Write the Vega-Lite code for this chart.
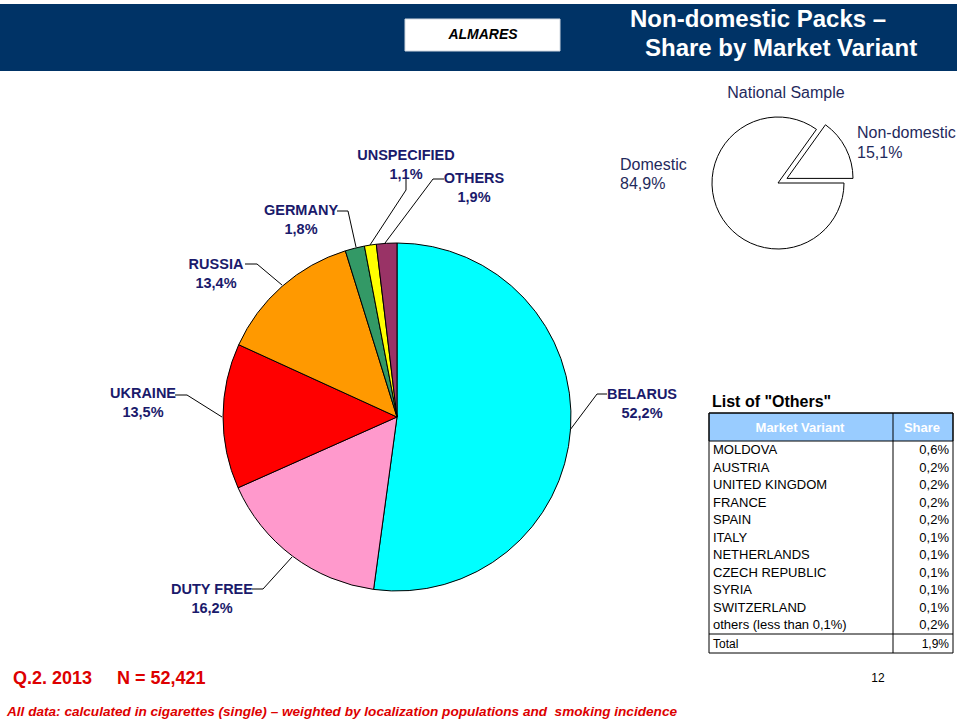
{
  "$schema": "https://vega.github.io/schema/vega-lite/v6.json",
  "width": 959,
  "height": 721,
  "autosize": {"type": "fit", "contains": "padding"},
  "padding": 0,
  "background": "white",
  "config": {"view": {"stroke": null}},
  "data": {"values": [{}]},
  "resolve": {"scale": {"theta": "independent", "color": "independent"}},
  "layer": [
    {"mark": {"type": "rect", "fill": "#003366"},
     "encoding": {"x": {"value": 0}, "x2": {"value": 957}, "y": {"value": 4}, "y2": {"value": 71}}},
    {"mark": {"type": "rect", "fill": "white", "stroke": "#d0d8e0", "strokeWidth": 1},
     "encoding": {"x": {"value": 405}, "x2": {"value": 560}, "y": {"value": 19}, "y2": {"value": 51}}},
    {"mark": {"type": "text", "font": "Liberation Sans", "fontSize": 14, "fontWeight": "bold", "fontStyle": "italic", "fill": "black", "align": "center", "baseline": "middle"},
     "encoding": {"x": {"value": 483}, "y": {"value": 35}, "text": {"value": "ALMARES"}}},
    {"mark": {"type": "text", "font": "Liberation Sans", "fontSize": 24, "fontWeight": "bold", "fill": "white", "align": "left", "baseline": "middle"},
     "encoding": {"x": {"value": 630}, "y": {"value": 20}, "text": {"value": "Non-domestic Packs –"}}},
    {"mark": {"type": "text", "font": "Liberation Sans", "fontSize": 24, "fontWeight": "bold", "fill": "white", "align": "left", "baseline": "middle"},
     "encoding": {"x": {"value": 645}, "y": {"value": 49}, "text": {"value": "Share by Market Variant"}}},

    {"data": {"values": [
      {"variant": "BELARUS", "share": 52.2, "o": 1},
      {"variant": "DUTY FREE", "share": 16.2, "o": 2},
      {"variant": "UKRAINE", "share": 13.5, "o": 3},
      {"variant": "RUSSIA", "share": 13.4, "o": 4},
      {"variant": "GERMANY", "share": 1.8, "o": 5},
      {"variant": "UNSPECIFIED", "share": 1.1, "o": 6},
      {"variant": "OTHERS", "share": 1.9, "o": 7}
    ]},
     "mark": {"type": "arc", "outerRadius": 174, "stroke": "black", "strokeWidth": 1},
     "encoding": {
       "x": {"value": 397}, "y": {"value": 417},
       "theta": {"field": "share", "type": "quantitative", "stack": true},
       "order": {"field": "o", "type": "quantitative"},
       "color": {"field": "variant", "type": "nominal", "legend": null,
         "scale": {"domain": ["BELARUS", "DUTY FREE", "UKRAINE", "RUSSIA", "GERMANY", "UNSPECIFIED", "OTHERS"],
                   "range": ["#00FFFF", "#FF99CC", "#FF0000", "#FF9900", "#339966", "#FFFF00", "#993366"]}}
     }},

    {"mark": {"type": "rule", "stroke": "black", "strokeWidth": 1}, "encoding": {"x": {"value": 337}, "y": {"value": 211}, "x2": {"value": 348}, "y2": {"value": 211}}},
    {"mark": {"type": "rule", "stroke": "black", "strokeWidth": 1}, "encoding": {"x": {"value": 348}, "y": {"value": 211}, "x2": {"value": 356}, "y2": {"value": 247}}},
    {"mark": {"type": "rule", "stroke": "black", "strokeWidth": 1}, "encoding": {"x": {"value": 406}, "y": {"value": 177}, "x2": {"value": 406}, "y2": {"value": 190}}},
    {"mark": {"type": "rule", "stroke": "black", "strokeWidth": 1}, "encoding": {"x": {"value": 406}, "y": {"value": 190}, "x2": {"value": 370}, "y2": {"value": 245}}},
    {"mark": {"type": "rule", "stroke": "black", "strokeWidth": 1}, "encoding": {"x": {"value": 444}, "y": {"value": 179}, "x2": {"value": 433}, "y2": {"value": 179}}},
    {"mark": {"type": "rule", "stroke": "black", "strokeWidth": 1}, "encoding": {"x": {"value": 433}, "y": {"value": 179}, "x2": {"value": 385}, "y2": {"value": 243}}},
    {"mark": {"type": "rule", "stroke": "black", "strokeWidth": 1}, "encoding": {"x": {"value": 245}, "y": {"value": 264}, "x2": {"value": 257}, "y2": {"value": 264}}},
    {"mark": {"type": "rule", "stroke": "black", "strokeWidth": 1}, "encoding": {"x": {"value": 257}, "y": {"value": 264}, "x2": {"value": 282}, "y2": {"value": 285}}},
    {"mark": {"type": "rule", "stroke": "black", "strokeWidth": 1}, "encoding": {"x": {"value": 175}, "y": {"value": 395}, "x2": {"value": 187}, "y2": {"value": 395}}},
    {"mark": {"type": "rule", "stroke": "black", "strokeWidth": 1}, "encoding": {"x": {"value": 187}, "y": {"value": 395}, "x2": {"value": 222}, "y2": {"value": 417}}},
    {"mark": {"type": "rule", "stroke": "black", "strokeWidth": 1}, "encoding": {"x": {"value": 252}, "y": {"value": 589}, "x2": {"value": 263}, "y2": {"value": 589}}},
    {"mark": {"type": "rule", "stroke": "black", "strokeWidth": 1}, "encoding": {"x": {"value": 263}, "y": {"value": 589}, "x2": {"value": 292}, "y2": {"value": 557}}},
    {"mark": {"type": "rule", "stroke": "black", "strokeWidth": 1}, "encoding": {"x": {"value": 607}, "y": {"value": 394}, "x2": {"value": 597}, "y2": {"value": 394}}},
    {"mark": {"type": "rule", "stroke": "black", "strokeWidth": 1}, "encoding": {"x": {"value": 597}, "y": {"value": 394}, "x2": {"value": 570}, "y2": {"value": 430}}},

    {"mark": {"type": "text", "font": "Liberation Sans", "fontSize": 14.5, "fontWeight": "bold", "fill": "#1a1a6b", "align": "center", "baseline": "middle", "lineHeight": 19},
     "encoding": {"x": {"value": 406}, "y": {"value": 155.5}, "text": {"value": ["UNSPECIFIED", "1,1%"]}}},
    {"mark": {"type": "text", "font": "Liberation Sans", "fontSize": 14.5, "fontWeight": "bold", "fill": "#1a1a6b", "align": "center", "baseline": "middle", "lineHeight": 19},
     "encoding": {"x": {"value": 474}, "y": {"value": 178.5}, "text": {"value": ["OTHERS", "1,9%"]}}},
    {"mark": {"type": "text", "font": "Liberation Sans", "fontSize": 14.5, "fontWeight": "bold", "fill": "#1a1a6b", "align": "center", "baseline": "middle", "lineHeight": 19},
     "encoding": {"x": {"value": 301}, "y": {"value": 210.5}, "text": {"value": ["GERMANY", "1,8%"]}}},
    {"mark": {"type": "text", "font": "Liberation Sans", "fontSize": 14.5, "fontWeight": "bold", "fill": "#1a1a6b", "align": "center", "baseline": "middle", "lineHeight": 19},
     "encoding": {"x": {"value": 216}, "y": {"value": 264.5}, "text": {"value": ["RUSSIA", "13,4%"]}}},
    {"mark": {"type": "text", "font": "Liberation Sans", "fontSize": 14.5, "fontWeight": "bold", "fill": "#1a1a6b", "align": "center", "baseline": "middle", "lineHeight": 19},
     "encoding": {"x": {"value": 143}, "y": {"value": 394}, "text": {"value": ["UKRAINE", "13,5%"]}}},
    {"mark": {"type": "text", "font": "Liberation Sans", "fontSize": 14.5, "fontWeight": "bold", "fill": "#1a1a6b", "align": "center", "baseline": "middle", "lineHeight": 19},
     "encoding": {"x": {"value": 212}, "y": {"value": 589.5}, "text": {"value": ["DUTY FREE", "16,2%"]}}},
    {"mark": {"type": "text", "font": "Liberation Sans", "fontSize": 14.5, "fontWeight": "bold", "fill": "#1a1a6b", "align": "center", "baseline": "middle", "lineHeight": 19},
     "encoding": {"x": {"value": 642}, "y": {"value": 394.5}, "text": {"value": ["BELARUS", "52,2%"]}}},

    {"mark": {"type": "text", "font": "Liberation Sans", "fontSize": 16, "fill": "#1f2a5c", "align": "center", "baseline": "middle"},
     "encoding": {"x": {"value": 786}, "y": {"value": 93}, "text": {"value": "National Sample"}}},
    {"mark": {"type": "text", "font": "Liberation Sans", "fontSize": 16, "fill": "#1f2a5c", "align": "left", "baseline": "middle", "lineHeight": 19},
     "encoding": {"x": {"value": 620}, "y": {"value": 164.5}, "text": {"value": ["Domestic", "84,9%"]}}},
    {"mark": {"type": "text", "font": "Liberation Sans", "fontSize": 16, "fill": "#1f2a5c", "align": "left", "baseline": "middle", "lineHeight": 20},
     "encoding": {"x": {"value": 857}, "y": {"value": 133}, "text": {"value": ["Non-domestic", "15,1%"]}}},

    {"data": {"values": [
      {"segment": "Domestic", "share": 84.9, "o": 1},
      {"segment": "Non-domestic", "share": 15.1, "o": 2}
    ]},
     "transform": [
       {"stack": "share", "groupby": [], "as": ["s0", "s1"], "sort": [{"field": "o", "order": "ascending"}]},
       {"filter": "datum.segment === 'Domestic'"}
     ],
     "mark": {"type": "arc", "outerRadius": 66, "fill": "white", "stroke": "black", "strokeWidth": 1},
     "encoding": {
       "x": {"value": 778}, "y": {"value": 183},
       "theta": {"field": "s0", "type": "quantitative", "scale": {"domain": [0, 100], "range": [1.5708, 7.854]}},
       "theta2": {"field": "s1"}
     }},
    {"data": {"values": [
      {"segment": "Domestic", "share": 84.9, "o": 1},
      {"segment": "Non-domestic", "share": 15.1, "o": 2}
    ]},
     "transform": [
       {"stack": "share", "groupby": [], "as": ["s0", "s1"], "sort": [{"field": "o", "order": "ascending"}]},
       {"filter": "datum.segment === 'Non-domestic'"}
     ],
     "mark": {"type": "arc", "outerRadius": 66, "fill": "white", "stroke": "black", "strokeWidth": 1},
     "encoding": {
       "x": {"value": 787}, "y": {"value": 178.4},
       "theta": {"field": "s0", "type": "quantitative", "scale": {"domain": [0, 100], "range": [1.5708, 7.854]}},
       "theta2": {"field": "s1"}
     }},

    {"mark": {"type": "text", "font": "Liberation Sans", "fontSize": 16, "fontWeight": "bold", "fill": "black", "align": "left", "baseline": "middle"},
     "encoding": {"x": {"value": 712}, "y": {"value": 402}, "text": {"value": "List of \"Others\""}}},
    {"mark": {"type": "rect", "fill": "#99CCFF", "stroke": "black", "strokeWidth": 1},
     "encoding": {"x": {"value": 709}, "x2": {"value": 953}, "y": {"value": 413}, "y2": {"value": 441}}},
    {"mark": {"type": "rect", "fill": null, "fillOpacity": 0, "stroke": "black", "strokeWidth": 1},
     "encoding": {"x": {"value": 709}, "x2": {"value": 953}, "y": {"value": 413}, "y2": {"value": 653}}},
    {"mark": {"type": "rule", "stroke": "black", "strokeWidth": 1}, "encoding": {"x": {"value": 893}, "y": {"value": 413}, "x2": {"value": 893}, "y2": {"value": 653}}},
    {"mark": {"type": "rule", "stroke": "black", "strokeWidth": 1}, "encoding": {"x": {"value": 709}, "y": {"value": 634}, "x2": {"value": 953}, "y2": {"value": 634}}},
    {"mark": {"type": "text", "font": "Liberation Sans", "fontSize": 13, "fontWeight": "bold", "fill": "white", "align": "center", "baseline": "middle"},
     "encoding": {"x": {"value": 800}, "y": {"value": 428}, "text": {"value": "Market Variant"}}},
    {"mark": {"type": "text", "font": "Liberation Sans", "fontSize": 13, "fontWeight": "bold", "fill": "white", "align": "center", "baseline": "middle"},
     "encoding": {"x": {"value": 922}, "y": {"value": 428}, "text": {"value": "Share"}}},

    {"data": {"name": "others"},
     "mark": {"type": "text", "font": "Liberation Sans", "fontSize": 13, "fill": "black", "align": "left", "baseline": "middle"},
     "encoding": {
       "x": {"value": 713},
       "y": {"field": "variant", "type": "ordinal", "sort": null, "scale": {"type": "point", "padding": 0, "range": [450, 625]}, "axis": null},
       "text": {"field": "variant"}
     }},
    {"data": {"name": "others"},
     "transform": [{"calculate": "replace(format(datum.share, '.1f'), '.', ',') + '%'", "as": "label"}],
     "mark": {"type": "text", "font": "Liberation Sans", "fontSize": 13, "fill": "black", "align": "right", "baseline": "middle"},
     "encoding": {
       "x": {"value": 949},
       "y": {"field": "variant", "type": "ordinal", "sort": null, "scale": {"type": "point", "padding": 0, "range": [450, 625]}, "axis": null},
       "text": {"field": "label"}
     }},
    {"mark": {"type": "text", "font": "Liberation Sans", "fontSize": 12, "fill": "black", "align": "left", "baseline": "middle"},
     "encoding": {"x": {"value": 713}, "y": {"value": 644}, "text": {"value": "Total"}}},
    {"mark": {"type": "text", "font": "Liberation Sans", "fontSize": 12, "fill": "black", "align": "right", "baseline": "middle"},
     "encoding": {"x": {"value": 949}, "y": {"value": 644}, "text": {"value": "1,9%"}}},

    {"mark": {"type": "text", "font": "Liberation Sans", "fontSize": 18, "fontWeight": "bold", "fill": "#dd0000", "align": "left", "baseline": "middle"},
     "encoding": {"x": {"value": 13}, "y": {"value": 679}, "text": {"value": "Q.2. 2013\u00a0\u00a0\u00a0\u00a0\u00a0N = 52,421"}}},
    {"mark": {"type": "text", "font": "Liberation Sans", "fontSize": 12, "fill": "black", "align": "center", "baseline": "middle"},
     "encoding": {"x": {"value": 878}, "y": {"value": 678}, "text": {"value": "12"}}},
    {"mark": {"type": "text", "font": "Liberation Sans", "fontSize": 13.6, "fontWeight": "bold", "fontStyle": "italic", "fill": "#dd0000", "align": "left", "baseline": "middle"},
     "encoding": {"x": {"value": 7}, "y": {"value": 712}, "text": {"value": "All data: calculated in cigarettes (single) – weighted by localization populations and\u00a0 smoking incidence"}}}
  ],
  "datasets": {
    "others": [
      {"variant": "MOLDOVA", "share": 0.6},
      {"variant": "AUSTRIA", "share": 0.2},
      {"variant": "UNITED KINGDOM", "share": 0.2},
      {"variant": "FRANCE", "share": 0.2},
      {"variant": "SPAIN", "share": 0.2},
      {"variant": "ITALY", "share": 0.1},
      {"variant": "NETHERLANDS", "share": 0.1},
      {"variant": "CZECH REPUBLIC", "share": 0.1},
      {"variant": "SYRIA", "share": 0.1},
      {"variant": "SWITZERLAND", "share": 0.1},
      {"variant": "others (less than 0,1%)", "share": 0.2}
    ]
  }
}
